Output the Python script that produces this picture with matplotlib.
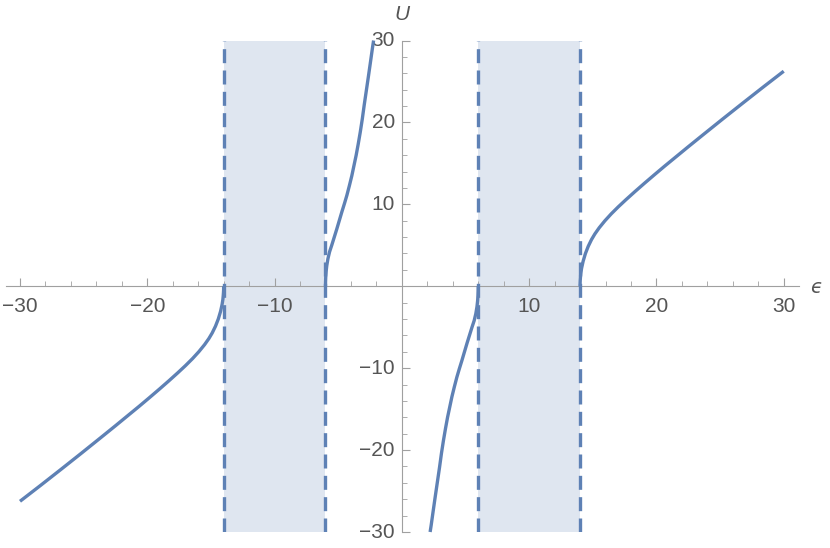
import matplotlib
matplotlib.use("Agg")
import matplotlib.pyplot as plt
import numpy as np

# Outer branch (epsilon > 14); the left branch is its mirror (-eps, -U)
eps_outer = [14.0, 14.005, 14.015, 14.03, 14.06, 14.12, 14.24, 14.42, 14.64, 14.9,
             15.16, 15.5, 15.95, 16.45, 17.0, 17.6, 18.3, 19.05, 19.87, 20.65,
             21.45, 22.5, 23.67, 25.2, 26.8, 28.4, 30.0]
U_outer = [0.0, 0.45, 0.77, 1.09, 1.6, 2.2, 3.05, 3.99, 4.87, 5.7,
           6.38, 7.13, 7.99, 8.84, 9.69, 10.56, 11.54, 12.56, 13.65, 14.67,
           15.69, 17.03, 18.5, 20.41, 22.38, 24.33, 26.25]

# Inner branch (-6 < epsilon < 0); the right inner branch is its mirror
eps_inner = [-6.0, -5.995, -5.98, -5.95, -5.9, -5.81, -5.68, -5.5, -5.31, -5.11,
             -4.91, -4.71, -4.51, -4.32, -4.12, -3.93, -3.76, -3.59, -3.43,
             -3.27, -3.11, -2.96, -2.79, -2.62, -2.45, -2.30, -2.22]
U_inner = [0.0, 0.55, 1.15, 1.8, 2.5, 3.35, 4.2, 5.05, 6.0, 7.0,
           8.05, 9.1, 10.1, 11.1, 12.3, 13.5, 14.75, 16.0, 17.35,
           18.8, 20.4, 22.1, 23.9, 25.7, 27.55, 29.2, 30.0]

# shaded gap regions
bands = [(-14, -6), (6, 14)]

xticks = [-30, -20, -10, 10, 20, 30]
yticks = [-30, -20, -10, 10, 20, 30]

blue = "#5E81B5"
fill = "#DFE6F0"
axis_col = "#A0A0A0"
text_col = "#555555"

W, H = 830, 548
fig = plt.figure(figsize=(W / 100, H / 100), dpi=100)
left, right = 6 / W, 799 / W
bottom, top = 1 - 532 / H, 1 - 40.5 / H
ax = fig.add_axes([left, bottom, right - left, top - bottom])
ax.set_xlim(-31.1, 31.2)
ax.set_ylim(-30, 30)

for a, b in bands:
    ax.fill_between([a, b], [-30, -30], [30, 30], color=fill, lw=0, zorder=1)
    for xv in (a, b):
        ax.plot([xv, xv], [-30, 30], color=blue, lw=2.4, ls=(0, (4.2, 2.2)),
                zorder=3, solid_capstyle="butt")

eo = np.array(eps_outer); uo = np.array(U_outer)
ei = np.array(eps_inner); ui = np.array(U_inner)
kw = dict(color=blue, lw=2.4, zorder=4, solid_capstyle="butt",
          solid_joinstyle="round", clip_on=False)
ax.plot(eo, uo, **kw)
ax.plot(-eo, -uo, **kw)
ax.plot(ei, ui, **kw)
ax.plot(-ei, -ui, **kw)

# axes through origin
for s in ("top", "right"):
    ax.spines[s].set_visible(False)
ax.spines["left"].set_position(("data", 0))
ax.spines["bottom"].set_position(("data", 0))
for s in ("left", "bottom"):
    ax.spines[s].set_color(axis_col)
    ax.spines[s].set_linewidth(0.8)
    ax.spines[s].set_zorder(2)

ax.set_xticks(xticks)
ax.set_yticks(yticks)
ax.set_xticks(np.arange(-30, 31, 2), minor=True)
ax.set_yticks(np.arange(-30, 31, 2), minor=True)
ax.set_xticklabels([])
ax.set_yticklabels([])
ax.tick_params(axis="x", which="major", direction="in", length=6, width=0.8, color=axis_col)
ax.tick_params(axis="x", which="minor", direction="in", length=3.5, width=0.6, color=axis_col)
ax.tick_params(axis="y", which="major", direction="in", length=6, width=0.8, color=axis_col)
ax.tick_params(axis="y", which="minor", direction="in", length=3.5, width=0.6, color=axis_col)

font = dict(family="Liberation Sans", size=15, color=text_col)
for t in xticks:
    lbl = ("\u2212" + str(abs(t))) if t < 0 else str(t)
    ax.annotate(lbl, xy=(t, 0), xytext=(0, -7.5), textcoords="offset points",
                ha="center", va="top", **font)
for t in yticks:
    lbl = ("\u2212" + str(abs(t))) if t < 0 else str(t)
    ax.annotate(lbl, xy=(0, t), xytext=(-5, 0), textcoords="offset points",
                ha="right", va="center", **font)

fig.text(402 / W, 1 - 15 / H, "U", ha="center", va="center", style="italic",
         family="Liberation Sans", size=15, color=text_col)
fig.text(816 / W, 1 - 287 / H, "\u03F5", ha="center", va="center",
         style="italic", family="DejaVu Sans", size=14, color=text_col)

fig.savefig("out.png", dpi=100)
